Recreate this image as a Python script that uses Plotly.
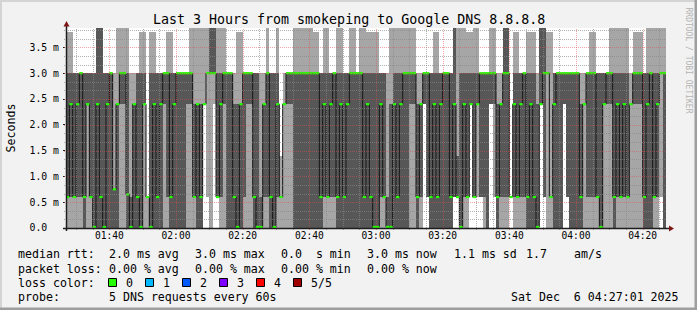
import plotly.graph_objects as go
from datetime import datetime, timedelta

# ---------------- data (values in ms) ----------------
start_time = datetime(2025, 12, 6, 1, 27, 0)   # first 1-minute column
step_minutes = 1

# five sorted ping values per minute: lo (1st), p2 (2nd), median (3rd), p4 (4th), hi (5th)
lo = [0, 0, 0, 0, 0, 0, 0, 0, 0, 0,
      0, 0, 0, 0, 0, 0, 0, 0, 0, 0,
      0, 0, 0, 0, 0, 0, 0, 0, 0, 0,
      0, 0, 0, 0, 0, 0, 0, 0, 0, 0,
      0, 2.4, 0.6, 0, 2.4, 0.6, 0, 0, 0, 0,
      0, 0, 0, 0, 0, 0, 0, 0, 0, 0,
      0, 0, 0, 0, 0, 0, 0, 0, 0, 0,
      0, 0, 0, 0, 0, 0, 0, 0, 0, 0,
      0, 0, 0, 0, 0, 0, 0, 0, 0, 0,
      0, 0, 0, 0, 0, 0, 0, 0, 0, 0,
      0, 0, 0, 0, 0, 0, 0, 2.4, 0.6, 0,
      0, 0, 0, 0, 0, 0, 0.6, 0.6, 0, 0,
      0, 2.4, 0.6, 0.6, 0.6, 0, 0, 2.4, 0.6, 0,
      0, 0, 0, 0.6, 0, 0, 0, 0, 0, 0,
      0, 0, 2.4, 0.6, 0, 0, 0, 0, 0, 2.4,
      0.6, 0, 0, 0, 0, 0, 0, 0, 0, 0,
      0, 0, 0, 0, 0, 0, 0, 0, 0, 0,
      0, 0, 0, 0, 0, 0, 0, 0, 0.6, 0]

p2 = [0.6, 0.6, 0.6, 0.6, 0.6, 0, 2.4, 0.6, 0, 0,
      0, 0, 0, 0, 0, 0, 2.4, 2.4, 0, 0,
      0, 0, 0, 2.4, 0.6, 0, 0, 0, 0, 2.4,
      0.6, 0, 0, 0, 0, 0, 2.4, 2.4, 0.6, 0,
      0, 2.4, 3.0, 3.0, 3.0, 0.6, 0.6, 2.4, 0, 0,
      0, 0, 0, 0.6, 2.4, 2.4, 0, 0, 0, 0.6,
      0.6, 0, 0, 0.6, 0.6, 2.4, 2.4, 2.4, 0, 0,
      0, 0, 0, 0, 0, 0, 0, 0.6, 0.6, 0.6,
      0.6, 0, 0, 0, 0, 0, 0, 0, 0, 0,
      0, 0, 0, 0, 0.6, 0.6, 0, 0, 0, 0,
      0, 0, 0, 2.4, 2.4, 0, 0.6, 2.4, 0.6, 0,
      0, 0, 0, 0, 0, 0, 0.6, 0.6, 0, 0.6,
      0.6, 2.4, 0.6, 2.4, 0.6, 0.6, 0, 2.4, 2.4, 0,
      0.6, 0.6, 0.6, 0.6, 0.6, 0.6, 0.6, 0.6, 0, 0,
      0, 0, 2.4, 0.6, 3.0, 0.6, 0, 0, 0, 2.4,
      0.6, 0, 0, 0, 0, 2.4, 0.6, 0.6, 0.6, 0.6,
      0, 2.4, 2.4, 2.4, 0, 0.6, 0.6, 0.6, 0.6, 2.4,
      2.4, 2.4, 2.4, 0, 0, 0, 0.6, 0.6, 3.0, 0]

median = [0.6, 2.4, 0.6, 2.4, 3.0, 0.6, 2.4, 0.6, 0.02, 2.4,
          0.6, 0.02, 2.4, 3.0, 0.75, 2.4, 3.0, 3.0, 0.65, 0.02,
          2.4, 0.6, 0.02, 2.4, 0.6, 0.02, 2.4, 0.6, 2.4, 3.0,
          3.0, 0.6, 2.4, 3.0, 3.0, 3.0, 3.0, 3.0, 0.6, 2.4,
          0.6, 2.4, 3.0, 3.0, 3.0, 0.6, 2.4, 3.0, 3.0, 3.0,
          0.6, 0.02, 2.4, 3.0, 3.0, 3.0, 0.6, 0.02, 0.02, 2.4,
          3.0, 0.6, 0.02, 2.4, 0.6, 2.4, 3.0, 3.0, 3.0, 3.0,
          3.0, 3.0, 3.0, 3.0, 3.0, 3.0, 0.6, 2.4, 0.6, 2.4,
          3.0, 0.6, 2.4, 0.6, 2.4, 3.0, 3.0, 3.0, 3.0, 0.6,
          2.4, 0.6, 0.02, 0.02, 2.4, 0.6, 0.02, 0.02, 2.4, 0.6,
          2.4, 3.0, 3.0, 3.0, 3.0, 0.6, 2.4, 3.0, 3.0, 0.6,
          2.4, 0.6, 2.4, 3.0, 3.0, 0.6, 2.4, 0.6, 0.02, 2.4,
          0.6, 2.4, 0.6, 2.4, 3.0, 3.0, 3.0, 3.0, 3.0, 0.6,
          2.4, 3.0, 3.0, 0.6, 2.4, 0.6, 2.4, 3.0, 0.6, 2.4,
          0.6, 0.02, 2.4, 3.0, 3.0, 0.6, 2.4, 3.0, 3.0, 3.0,
          3.0, 3.0, 3.0, 3.0, 0.6, 2.4, 3.0, 3.0, 3.0, 0.6,
          0.02, 2.4, 3.0, 3.0, 0.6, 2.4, 0.6, 2.4, 0.6, 2.4,
          3.0, 3.0, 3.0, 0.6, 2.4, 3.0, 0.6, 2.4, 3.0, 3.0]

p4 = [3.0, 3.0, 3.0, 3.0, 3.0, 3.0, 3.0, 3.0, 3.0, 3.9,
      3.9, 3.0, 3.0, 3.0, 0.75, 2.4, 3.0, 3.0, 3.0, 0.6,
      2.4, 3.0, 3.0, 3.0, 0.6, 3.0, 3.0, 3.0, 3.0, 3.0,
      3.0, 3.0, 3.0, 3.0, 3.0, 3.0, 3.0, 3.0, 2.4, 2.4,
      2.4, 2.4, 3.0, 3.9, 3.9, 3.0, 3.0, 3.0, 3.0, 3.0,
      2.4, 2.4, 2.4, 3.0, 3.0, 3.0, 3.0, 3.0, 0.6, 2.4,
      3.0, 3.0, 3.0, 3.0, 0.6, 2.4, 3.0, 3.0, 3.0, 3.0,
      3.0, 3.0, 3.0, 3.0, 3.0, 3.0, 3.0, 3.0, 3.0, 3.0,
      3.0, 3.0, 3.0, 3.0, 3.0, 3.0, 3.0, 3.0, 3.0, 3.0,
      3.0, 3.0, 3.0, 3.0, 3.0, 3.0, 0.6, 2.4, 3.0, 3.0,
      3.0, 3.0, 3.0, 3.0, 3.0, 2.4, 2.4, 3.0, 3.0, 3.0,
      3.0, 3.0, 3.0, 3.0, 3.0, 3.0, 3.9, 1.4, 3.0, 3.0,
      3.0, 3.0, 3.0, 3.0, 3.0, 3.0, 3.0, 3.0, 3.0, 2.4,
      2.4, 3.9, 3.9, 0.6, 3.0, 3.0, 3.0, 3.0, 3.0, 3.0,
      3.0, 2.4, 3.9, 3.9, 3.0, 0.6, 3.0, 3.0, 3.0, 3.0,
      3.0, 3.0, 3.0, 3.0, 2.4, 2.4, 3.0, 3.0, 3.0, 3.0,
      3.0, 3.0, 3.0, 3.0, 3.0, 3.0, 3.0, 3.0, 3.0, 2.4,
      3.0, 3.0, 3.0, 3.0, 3.0, 3.0, 3.0, 3.0, 3.0, 3.0]

hi = [3.8, 3.8, 3.0, 3.0, 3.0, 3.0, 3.0, 3.0, 3.0, 3.9,
      3.9, 3.0, 3.0, 3.0, 3.0, 3.9, 3.9, 3.9, 3.9, 3.0,
      3.0, 3.0, 3.8, 3.8, 0.6, 3.8, 3.8, 3.0, 3.0, 3.0,
      3.8, 3.8, 3.0, 3.0, 3.0, 3.0, 3.0, 3.9, 3.9, 3.9,
      3.9, 3.9, 3.9, 3.9, 3.9, 3.9, 3.9, 3.9, 3.0, 3.0,
      3.0, 3.8, 3.8, 3.0, 3.0, 3.0, 3.0, 3.0, 3.0, 3.0,
      3.9, 3.0, 3.0, 3.9, 1.4, 3.0, 3.0, 3.0, 3.9, 3.9,
      3.9, 3.9, 3.9, 3.9, 3.8, 3.8, 3.0, 3.9, 3.9, 3.0,
      3.0, 3.9, 3.9, 3.0, 3.0, 3.9, 3.9, 3.0, 3.9, 3.9,
      3.8, 3.8, 3.8, 3.8, 3.0, 3.0, 3.0, 3.9, 3.9, 3.9,
      3.9, 3.9, 3.9, 3.9, 3.9, 3.0, 3.0, 3.0, 3.0, 3.0,
      3.8, 3.8, 3.0, 3.0, 3.0, 3.0, 3.9, 3.9, 3.9, 3.9,
      3.8, 3.8, 3.9, 3.9, 3.0, 3.0, 3.0, 3.9, 3.9, 3.0,
      3.0, 3.9, 3.9, 0.6, 3.8, 3.8, 3.0, 3.0, 3.8, 3.8,
      3.8, 3.0, 3.9, 3.9, 3.8, 3.8, 3.0, 3.0, 3.0, 3.0,
      3.0, 3.0, 3.0, 3.0, 3.0, 3.0, 3.0, 3.8, 3.8, 3.0,
      3.0, 3.0, 3.0, 3.9, 3.9, 3.9, 3.9, 3.9, 3.9, 3.0,
      3.8, 3.8, 3.8, 3.0, 3.9, 3.9, 3.9, 3.9, 3.9, 3.9]

x_tick_labels = ["01:40", "02:00", "02:20", "02:40", "03:00", "03:20", "03:40", "04:00", "04:20"]
y_tick_values = [0.0, 0.5, 1.0, 1.5, 2.0, 2.5, 3.0, 3.5]
y_tick_labels = ["0.0  ", "0.5 m", "1.0 m", "1.5 m", "2.0 m", "2.5 m", "3.0 m", "3.5 m"]
y_max = 3.876

legend_rows = [
    [("median rtt:", 16), ("2.0 ms avg", 107.3), ("3.0 ms max", 193.3), ("0.0  s min", 279.3),
     ("3.0 ms now", 365.3), ("1.1 ms sd", 451.7), ("1.7", 524.3), ("am/s", 572.3)],
    [("packet loss:", 16), ("0.00 % avg", 107.3), ("0.00 % max", 193.3), ("0.00 % min", 279.3),
     ("0.00 % now", 365.3)],
    [("loss color:", 16)],
    [("probe:", 16), ("5 DNS requests every 60s", 107.3)],
]
loss_labels = ["0", "1", "2", "3", "4", "5/5"]
loss_colors = ["#26ff00", "#00b8ff", "#0059ff", "#7e00ff", "#ff0000", "#a10000"]
stamp_text = "Sat Dec  6 04:27:01 2025"
title_text = "Last 3 Hours from smokeping to Google DNS 8.8.8.8"

# ---------------- geometry ----------------
W, H = 697, 310
PL, PR, PT, PB = 66, 666, 28, 228   # plot area in pixels
MONO = "DejaVu Sans Mono"
total_minutes = len(median) * step_minutes


def px(x):
    return (x - PL) / (PR - PL)


def py(y):
    return (PB - y) / (PB - PT)


def nb(s):
    return s.replace(" ", "\u00a0")


n = len(median)
t_left = [start_time + timedelta(minutes=i * step_minutes) for i in range(n)]
t_mid = [t + timedelta(seconds=30 * step_minutes) for t in t_left]
t_end = start_time + timedelta(minutes=n * step_minutes)

fig = go.Figure()

# outer smoke (1st..5th ping)
fig.add_trace(go.Bar(
    x=t_mid, y=[h - l for h, l in zip(hi, lo)], base=lo, width=60000 * step_minutes,
    marker=dict(color="#a6a6a6", line=dict(width=0)), hoverinfo="skip"))
# inner smoke (2nd..4th ping)
fig.add_trace(go.Bar(
    x=t_mid, y=[b - a for a, b in zip(p2, p4)], base=p2, width=60000 * step_minutes,
    marker=dict(color="#575757", line=dict(width=0)), hoverinfo="skip"))
# median step line
fig.add_trace(go.Scatter(
    x=t_left + [t_end], y=median + [median[-1]], mode="lines",
    line=dict(color="#161616", width=1, shape="hv"), hoverinfo="skip"))
# loss-coloured median dashes
gx, gy = [], []
for i in range(n):
    gx += [t_left[i], t_left[i] + timedelta(minutes=step_minutes), None]
    gy += [median[i], median[i], None]
fig.add_trace(go.Scatter(x=gx, y=gy, mode="lines", line=dict(color=loss_colors[0], width=2.2),
                         hoverinfo="skip"))

shapes = []
# grid (drawn over the data like rrdtool), snapped to pixel centres
minor_col = "rgba(135,135,135,0.65)"
major_col = "rgba(222,79,79,0.5)"
px_per_ms = (PB - PT) / y_max
for k in range(1, 24):
    v = k / 6.0
    if v >= y_max:
        break
    is_major = (k % 3 == 0)
    yy = round(PB - v * px_per_ms) + 0.5
    shapes.append(dict(type="line", xref="paper", yref="paper", x0=px(PL - 2), x1=px(PR), y0=py(yy),
                       y1=py(yy),
                       line=dict(color=major_col if is_major else minor_col, width=1, dash="1px,1px"),
                       layer="above"))
px_per_min = (PR - PL) / total_minutes
m = 3
while m < total_minutes:
    t = start_time + timedelta(minutes=m)
    is_major = (t.minute % 20 == 0)
    xx = round(PL + m * px_per_min) + 0.5
    shapes.append(dict(type="line", xref="paper", yref="paper", x0=px(xx), x1=px(xx), y0=py(PB + 2),
                       y1=py(PT),
                       line=dict(color=major_col if is_major else minor_col, width=1, dash="1px,1px"),
                       layer="above"))
    m += 5

# axes with arrows
axis_col = "#1e1e1e"
arrow_col = "#7f1515"
shapes.append(dict(type="line", xref="paper", yref="paper", x0=px(PL - 3), x1=px(PR + 4),
                   y0=py(PB + 0.5), y1=py(PB + 0.5), line=dict(color=axis_col, width=1.5), layer="above"))
shapes.append(dict(type="line", xref="paper", yref="paper", x0=px(PL + 0.5), x1=px(PL + 0.5),
                   y0=py(PB + 3), y1=py(PT - 3), line=dict(color=axis_col, width=1.5), layer="above"))
shapes.append(dict(type="path", xref="paper", yref="paper", layer="above",
                   path=f"M {px(PL-2.5)} {py(PT-1.5)} L {px(PL+3.5)} {py(PT-1.5)} L {px(PL+0.5)} {py(PT-7)} Z",
                   fillcolor=arrow_col, line=dict(width=0)))
shapes.append(dict(type="path", xref="paper", yref="paper", layer="above",
                   path=f"M {px(PR+3)} {py(PB-2.5)} L {px(PR+3)} {py(PB+3.5)} L {px(PR+8)} {py(PB+0.5)} Z",
                   fillcolor=arrow_col, line=dict(width=0)))

# 3D frame of the rrdtool canvas
shapes += [
    dict(type="rect", xref="paper", yref="paper", x0=px(0), x1=px(W), y0=py(0), y1=py(2),
         fillcolor="#d4d4d4", line=dict(width=0), layer="below"),
    dict(type="rect", xref="paper", yref="paper", x0=px(0), x1=px(2), y0=py(0), y1=py(H),
         fillcolor="#d4d4d4", line=dict(width=0), layer="below"),
    dict(type="rect", xref="paper", yref="paper", x0=px(0), x1=px(W), y0=py(H - 2.5), y1=py(H),
         fillcolor="#9e9e9e", line=dict(width=0), layer="below"),
    dict(type="rect", xref="paper", yref="paper", x0=px(W - 2.5), x1=px(W), y0=py(0), y1=py(H),
         fillcolor="#9e9e9e", line=dict(width=0), layer="below"),
]

# loss colour boxes
box_x = [108.3, 145.0, 182.3, 219.3, 256.0, 293.3]
for bx, col in zip(box_x, loss_colors):
    shapes.append(dict(type="rect", xref="paper", yref="paper", x0=px(round(bx) + 0.5),
                       x1=px(round(bx) + 8.5), y0=py(278.5), y1=py(286.5), fillcolor=col,
                       line=dict(color="#000000", width=1)))

annotations = []
annotations.append(dict(text=nb(title_text), x=px(348.5), y=py(19), xref="paper", yref="paper",
                        showarrow=False, xanchor="center", yanchor="middle",
                        font=dict(family=MONO, size=13.3, color="#000000")))
annotations.append(dict(text="Seconds", x=px(10.5), y=py(128), xref="paper", yref="paper",
                        showarrow=False, textangle=-90, xanchor="center", yanchor="middle",
                        font=dict(family=MONO, size=11.6, color="#000000")))
annotations.append(dict(text=nb("RRDTOOL / TOBI OETIKER"), x=px(688), y=py(60.5), xref="paper",
                        yref="paper", showarrow=False, textangle=90, xanchor="center",
                        yanchor="middle", font=dict(family=MONO, size=8, color="#b4b4b4")))
row_y = [254.3, 268.5, 282.6, 296.7]
for row, yy in zip(legend_rows, row_y):
    for txt, xx in row:
        annotations.append(dict(text=nb(txt), x=px(xx), y=py(yy), xref="paper", yref="paper",
                                showarrow=False, xanchor="left", yanchor="middle",
                                font=dict(family=MONO, size=11.6, color="#000000")))
for bx, lab in zip(box_x, loss_labels):
    annotations.append(dict(text=lab, x=px(bx + 15.5), y=py(282.6), xref="paper", yref="paper",
                            showarrow=False, xanchor="left", yanchor="middle",
                            font=dict(family=MONO, size=11.6, color="#000000")))
annotations.append(dict(text=nb(stamp_text), x=px(680.5), y=py(296.7), xref="paper", yref="paper",
                        showarrow=False, xanchor="right", yanchor="middle",
                        font=dict(family=MONO, size=11.6, color="#000000")))

x_tick_vals = [datetime(2025, 12, 6, int(s[:2]), int(s[3:])) for s in x_tick_labels]

fig.update_layout(
    width=W, height=H,
    margin=dict(l=PL, r=W - PR, t=PT, b=H - PB, pad=0),
    paper_bgcolor="#f2f2f2", plot_bgcolor="#ffffff",
    barmode="overlay", bargap=0, showlegend=False,
    shapes=shapes, annotations=annotations,
    xaxis=dict(type="date", range=[start_time, t_end], showgrid=False, zeroline=False,
               tickvals=x_tick_vals, ticktext=x_tick_labels, ticks="",
               showline=False,
               tickfont=dict(family=MONO, size=9.6, color="#000000"), fixedrange=True),
    yaxis=dict(range=[0, y_max], showgrid=False, zeroline=False,
               tickvals=y_tick_values, ticktext=[nb(s) for s in y_tick_labels],
               ticks="outside", ticklen=2, tickcolor=axis_col, showline=False,
               ticklabelstandoff=2,
               tickfont=dict(family=MONO, size=9.8, color="#000000"), fixedrange=True),
)

fig.write_html("out.html")
